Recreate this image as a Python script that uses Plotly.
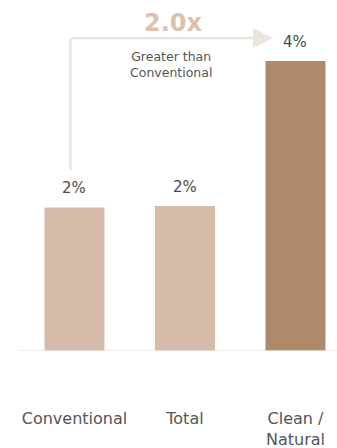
import plotly.graph_objects as go

categories = ["Conventional", "Total", "Clean /<br>Natural"]
values = [1.98, 2.0, 4.0]
value_labels = ["2%", "2%", "4%"]
bar_colors = ["#d5bba8", "#d5bba8", "#b0886a"]
multiplier_text = "2.0x"
multiplier_sub = "Greater than<br>Conventional"

FONT = "DejaVu Sans"

fig = go.Figure()
fig.add_trace(go.Bar(
    x=categories, y=values, marker=dict(color=bar_colors, line=dict(width=0)),
    width=0.543, hoverinfo="skip", showlegend=False,
))

# value labels
for c, v, t in zip(categories, values, value_labels):
    fig.add_annotation(x=c, y=v, text=t, showarrow=False, yanchor="bottom",
                       yshift=8, font=dict(family=FONT, size=15, color="#4a4a4a"))

# connector (vertical + horizontal) and arrowhead
arrow_color = "#e9e7dc"
y_top = 4.317
fig.add_shape(type="line", xref="x", yref="y", x0=-0.036, x1=-0.036, y0=2.497, y1=y_top,
              line=dict(color=arrow_color, width=2.5))
fig.add_annotation(x=1.797, y=y_top, ax=-0.036, ay=y_top, xref="x", yref="y",
                   axref="x", ayref="y", text="", showarrow=True,
                   arrowhead=2, arrowsize=1.6, arrowwidth=2.5, arrowcolor=arrow_color)

fig.add_annotation(x=0.9, y=4.53, text="<b>" + multiplier_text + "</b>", showarrow=False,
                   font=dict(family=FONT, size=24, color="#dcc2ad"))
fig.add_annotation(x=0.87, y=3.95, text=multiplier_sub, showarrow=False,
                   font=dict(family=FONT, size=12.5, color="#555555"))

# baseline
fig.add_shape(type="line", xref="paper", yref="y", x0=19/337, x1=1, y0=0, y1=0,
              line=dict(color="#ebe9e3", width=1.5))

fig.update_layout(
    width=337, height=448,
    margin=dict(l=0, r=0, t=0, b=97),
    paper_bgcolor="white", plot_bgcolor="white",
    xaxis=dict(range=[-0.674, 2.376], showgrid=False, zeroline=False, showline=False,
               ticks="", ticklabelstandoff=56, automargin=False,
               tickfont=dict(family=FONT, size=16, color="#555555")),
    yaxis=dict(range=[0, 4.841], showgrid=False, zeroline=False, showline=False,
               showticklabels=False, automargin=False),
)

fig.write_html("out.html")
